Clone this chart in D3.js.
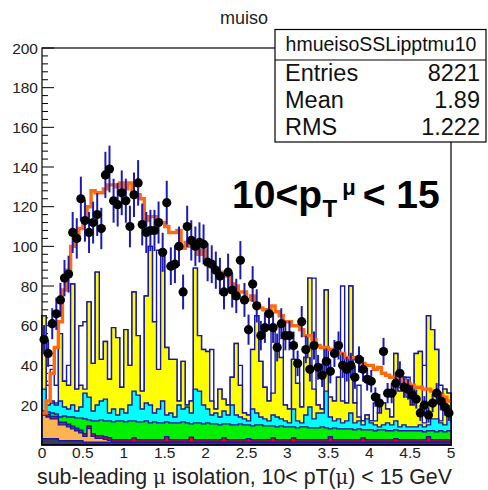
<!DOCTYPE html>
<html><head><meta charset="utf-8">
<script src="https://cdn.jsdelivr.net/npm/d3@7/dist/d3.min.js"></script>
<style>body{margin:0;background:#fff}svg{display:block}text{font-family:"Liberation Sans",Arial,sans-serif}</style>
</head><body>
<script>
// ---- data (100 bins of width 0.05 from 0 to 5) ----
const xMin = 0, xMax = 5, binWidth = 0.05;
const yTicks = [20,40,60,80,100,120,140,160,180,200];
const xTickLabels = ["0","0.5","1","1.5","2","2.5","3","3.5","4","4.5","5"];

// observed data points
const dataCounts = [53,46,61,66,73,84,86,107,104,124,
 113,107,112,116,109,136,139,123,121,127,
 123,110,126,132,111,107,108,108,112,97,
 122,90,91,100,77,110,103,100,102,101,
 92,91,88,85,77,87,78,75,93,73,
 58,81,70,55,59,66,59,49,61,55,
 55,50,41,62,48,38,50,39,35,42,
 37,46,50,40,38,40,34,43,38,33,
 32,24,21,47,26,26,31,36,29,28,
 25,23,16,20,15,21,26,22,19,16];

// orange reference histogram
const orangeLine = [16,22,36,49,62,78,88,100,103,109,
 114,120,128,127,127,129,131,131,130,132,
 129,132,125,126,124,113,115,115,113,112,
 110,107,107,108,99,102,100,100,96,98,
 92,91,88,87,86,85,81,80,77,77,
 73,75,71,69,68,68,70,67,65,62,
 62,60,60,58,55,55,53,50,49,49,
 48,48,46,46,44,44,44,42,41,40,
 40,38,39,36,35,34,34,33,32,31,
 30,29,29,28,28,27,26,25,24,22];

// stacked histogram: cumulative tops of each stack layer
const stackWhite = [65,30,38,30,56,32,40,81,28,60,
 62,72,41,87,43,52,33,59,54,29,
 58,40,77,55,27,75,100,62,98,97,
 49,43,43,22,42,20,22,89,55,48,
 47,48,18,28,23,20,34,51,40,16,
 15,48,65,42,29,22,59,51,60,20,
 18,43,40,19,44,84,84,20,18,78,
 24,22,34,80,21,80,21,30,12,15,
 12,21,16,21,18,14,46,27,34,34,
 20,46,47,40,65,58,48,30,28,26];
const stackYellow = [65,22,22,21,56,32,30,81,28,30,
 28,72,41,87,43,52,33,59,54,29,
 58,40,77,55,27,75,100,62,38,97,
 49,43,43,22,42,20,22,89,55,48,
 47,22,18,28,23,20,34,51,30,16,
 15,48,65,42,29,22,26,51,44,20,
 18,43,31,19,44,84,28,20,18,78,
 24,22,34,22,21,80,21,14,12,15,
 12,12,16,21,18,14,46,27,34,24,
 20,46,47,11,65,58,48,12,28,26];
const stackCyan = [28,20,21,20,22,19,18,20,17,19,
 26,24,17,20,22,23,16,18,15,18,
 16,20,27,25,18,21,20,16,18,22,
 15,16,14,20,18,19,16,28,27,20,
 18,15,16,14,17,15,20,15,14,13,
 12,18,16,14,13,12,15,14,13,12,
 11,18,12,11,15,19,13,16,16,27,
 14,12,13,11,12,16,11,12,10,13,
 11,10,9,10,11,10,12,9,10,9,
 9,9,10,9,10,13,13,11,10,16];
const stackGreen = [17,16.5,16,15.5,14,14.5,14,14,13.5,13.5,
 13,12.5,12,12,12.5,12,12,11.5,12,12,
 11.5,12,12,11.5,11.5,12,11,11.5,11,11,
 11.5,11,11,11,11.5,11,10.5,11,11,10.5,
 11,10.5,10.5,10,10.5,10.5,10,10,10.5,10,
 10,9.5,10,10,9.5,9.5,9.5,9,9.5,9,
 9,9,8.5,9,9,8.5,8.5,8.5,9,8.5,
 8,8.5,8,8,8,8,7.5,8,7.5,7.5,
 7.5,7,7.5,7.5,7,7,7.5,7,7,7,
 7,7,7,6.5,7,7,6.5,7,6.5,7];
const stackRed = [16,15.3,14.3,14.3,11.3,11.3,10.3,9.3,8.3,7.3,
 5.5,9.5,5.5,4.5,4.5,4,3.5,2.5,2.5,2.5,
 2.5,2.5,3.5,2.5,2.5,2.5,2.5,2.5,2.5,2.5,
 4,2.5,2.5,2.5,2.5,2.5,3.8,2.5,2.5,2.5,
 2.5,2.5,2.5,2.5,3.5,2.5,2.5,2.5,2.5,2.5,
 3,2.5,2.5,2.5,2.5,2.5,3.5,2.5,2.5,2.5,
 2.5,3.5,2.5,2.5,2.5,2.5,2.5,2.5,2.5,2.5,
 4,2.5,2.5,2.5,2.5,2.5,2.5,2.5,3.5,2.5,
 2.5,2.5,2.5,2.5,2.5,2.5,3,2.5,2.5,2.5,
 2.5,2.5,2.5,2.5,4,2.5,2.5,2.5,2.5,2.5];
const stackTan = [15,14,13,13,10,10,9,8,7,6,
 4.2,8.2,4.2,3.2,3.2,2.7,2.2,1.2,1.2,1.2,
 1.2,1.2,1.2,1.2,1.2,1.2,1.2,1.2,1.2,1.2,
 1.2,1.2,1.2,1.2,1.2,1.2,1.2,1.2,1.2,1.2,
 1.2,1.2,1.2,1.2,1.2,1.2,1.2,1.2,1.2,1.2,
 1.2,1.2,1.2,1.2,1.2,1.2,1.2,1.2,1.2,1.2,
 1.2,1.2,1.2,1.2,1.2,1.2,1.2,1.2,1.2,1.2,
 1.2,1.2,1.2,1.2,1.2,1.2,1.2,1.2,1.2,1.2,
 1.2,1.2,1.2,1.2,1.2,1.2,1.2,1.2,1.2,1.2,
 1.2,1.2,1.2,1.2,1.2,1.2,1.2,1.2,1.2,1.2];
const stackDark = [3,3,3,3,2,2,2,2,2,2,
 1.2,1.2,1.2,1.2,1.2,1.2,1.2,1.2,1.2,1.2,
 1.2,1.2,1.2,1.2,1.2,1.2,1.2,1.2,1.2,1.2,
 1.2,1.2,1.2,1.2,1.2,1.2,1.2,1.2,1.2,1.2,
 1.2,1.2,1.2,1.2,1.2,1.2,1.2,1.2,1.2,1.2,
 1.2,1.2,1.2,1.2,1.2,1.2,1.2,1.2,1.2,1.2,
 1.2,1.2,1.2,1.2,1.2,1.2,1.2,1.2,1.2,1.2,
 1.2,1.2,1.2,1.2,1.2,1.2,1.2,1.2,1.2,1.2,
 1.2,1.2,1.2,1.2,1.2,1.2,1.2,1.2,1.2,1.2,
 1.2,1.2,1.2,1.2,1.2,1.2,1.2,1.2,1.2,1.2];

const statsName = "hmueisoSSLipptmu10";
const statsRows = [["Entries","8221"],["Mean","1.89"],["RMS","1.222"]];

// ---- drawing ----
const W = 488, H = 490;
const svg = d3.select("body").append("svg").attr("width", W).attr("height", H);
svg.append("rect").attr("width", W).attr("height", H).attr("fill", "#fff");

const x = d3.scaleLinear().domain([xMin, xMax]).range([42, 451]);
const y = d3.scaleLinear().domain([0, 200]).range([444.7, 48]);
const navy = "#1818a0";

// ticks (under histograms)
const gT = svg.append("g").attr("stroke", "#000").attr("stroke-width", 1);
d3.range(0, 201, 4).forEach(v => {
  const major = v % 20 === 0;
  gT.append("line").attr("x1", x(0)).attr("x2", x(0) + (major ? 12 : 6))
    .attr("y1", y(v)).attr("y2", y(v));
});
d3.range(0, 51).forEach(k => {
  const v = k * 0.1, major = k % 5 === 0;
  gT.append("line").attr("x1", x(v)).attr("x2", x(v))
    .attr("y1", y(0)).attr("y2", y(0) - (major ? 12 : 6));
});

function stepPts(vals) {
  const pts = vals.map((v, i) => [xMin + i * binWidth, v]);
  pts.push([xMax, vals[vals.length - 1]]);
  return pts;
}
const area = d3.area().curve(d3.curveStepAfter)
  .x(d => x(d[0])).y0(y(0)).y1(d => y(d[1]));
const line = d3.line().curve(d3.curveStepAfter)
  .x(d => x(d[0])).y(d => y(d[1]));

const layers = [
  [stackWhite, "#ffffff"],
  [stackYellow, "#ffff00"],
  [stackCyan, "#00ffff"],
  [stackGreen, "#00f000"],
  [stackRed, "#ff0000"],
  [stackTan, "#fbb450"],
  [stackDark, "#3a3a5a"]
];
layers.forEach(([vals, col]) => {
  svg.append("path").attr("d", area(stepPts(vals)))
    .attr("fill", col).attr("stroke", navy).attr("stroke-width", 1.4)
    .attr("stroke-linejoin", "miter");
});

// orange histogram line
svg.append("path").attr("d", line(stepPts(orangeLine)))
  .attr("fill", "none").attr("stroke", "#ff6a10").attr("stroke-width", 3.4);

// data points with Poisson error bars
const gD = svg.append("g");
dataCounts.forEach((v, i) => {
  const cx = x(xMin + (i + 0.5) * binWidth);
  const e = Math.sqrt(v);
  gD.append("line").attr("x1", cx).attr("x2", cx)
    .attr("y1", y(v - e)).attr("y2", y(v + e))
    .attr("stroke", "#1c1cb4").attr("stroke-width", 2);
});
dataCounts.forEach((v, i) => {
  const cx = x(xMin + (i + 0.5) * binWidth);
  gD.append("circle").attr("cx", cx).attr("cy", y(v)).attr("r", 4.6).attr("fill", "#000");
});

// frame
svg.append("rect").attr("x", x(0)).attr("y", y(200))
  .attr("width", x(5) - x(0)).attr("height", y(0) - y(200))
  .attr("fill", "none").attr("stroke", "#000").attr("stroke-width", 1.2);

// y labels
svg.append("g").selectAll("text").data(yTicks).join("text")
  .attr("x", 38).attr("y", d => y(d)).attr("dy", "0.36em")
  .attr("text-anchor", "end").attr("font-size", 15.5).attr("fill", "#222")
  .text(d => d);
// x labels
svg.append("g").selectAll("text").data(xTickLabels).join("text")
  .attr("x", (d, i) => x(i * 0.5)).attr("y", 458)
  .attr("text-anchor", "middle").attr("font-size", 15.5).attr("fill", "#222")
  .text(d => d);

// x title
const xt = svg.append("text").attr("x", 37).attr("y", 484).attr("font-size", 21.3).attr("fill", "#222");
xt.append("tspan").text("sub-leading ");
xt.append("tspan").attr("font-family", "'DejaVu Serif',serif").attr("font-size", 19.5).text("μ");
xt.append("tspan").text(" isolation, 10< pT(");
xt.append("tspan").attr("font-family", "'DejaVu Serif',serif").attr("font-size", 19.5).text("μ");
xt.append("tspan").text(") < 15 GeV");

// title
svg.append("text").attr("x", 244).attr("y", 24).attr("text-anchor", "middle")
  .attr("font-size", 18).attr("fill", "#222").text("muiso");

// stats box
const sb = svg.append("g");
sb.append("rect").attr("x", 275).attr("y", 29.5).attr("width", 211).attr("height", 112.5)
  .attr("fill", "#fff").attr("stroke", "#000").attr("stroke-width", 1.2);
sb.append("line").attr("x1", 275).attr("x2", 486).attr("y1", 60).attr("y2", 60)
  .attr("stroke", "#000").attr("stroke-width", 1.2);
sb.append("text").attr("x", 381).attr("y", 51).attr("text-anchor", "middle")
  .attr("font-size", 19.5).attr("fill", "#111").text(statsName);
statsRows.forEach((r, i) => {
  const by = 81 + i * 27;
  sb.append("text").attr("x", 285).attr("y", by).attr("font-size", 23.5).attr("fill", "#111").text(r[0]);
  sb.append("text").attr("x", 480).attr("y", by).attr("text-anchor", "end")
    .attr("font-size", 23.5).attr("fill", "#111").text(r[1]);
});

// big label
const bl = svg.append("text").attr("x", 232).attr("y", 208).attr("font-weight", "bold")
  .attr("font-size", 39).attr("fill", "#000");
bl.append("tspan").text("10<p");
bl.append("tspan").attr("font-size", 24).attr("dy", 9).attr("dx", 0.5).text("T");
bl.append("tspan").attr("font-size", 22).attr("dy", -22).attr("dx", 5).text("μ");
bl.append("tspan").attr("dy", 13).attr("dx", 7).text("< 15");
</script>
</body></html>
